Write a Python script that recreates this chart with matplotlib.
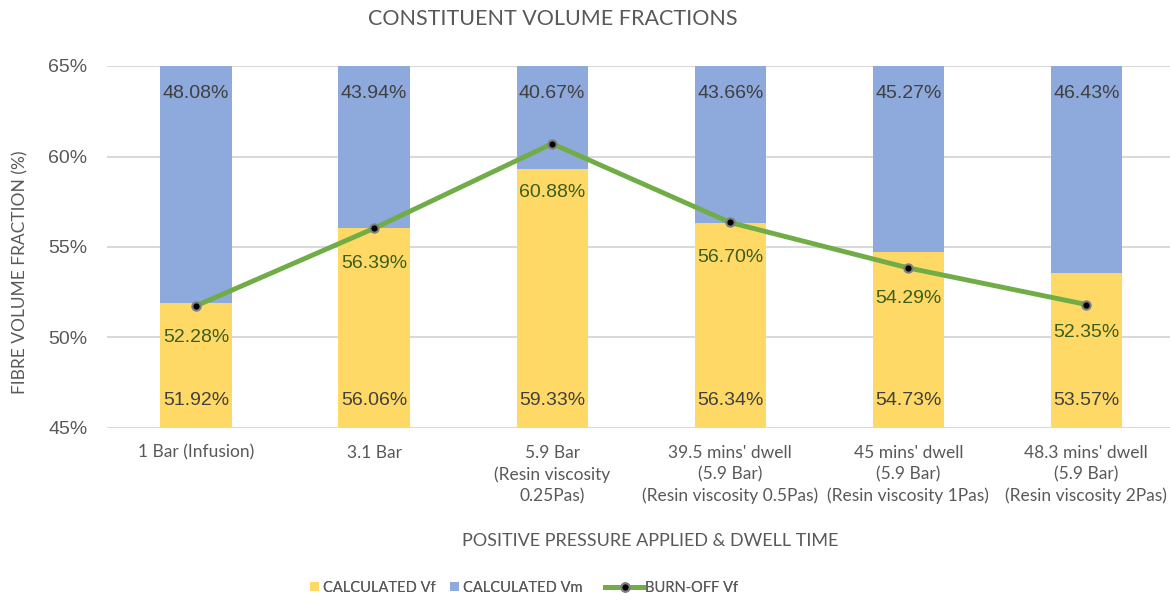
import numpy as np
import matplotlib
matplotlib.use('Agg')
import matplotlib.pyplot as plt

categories = ["1 Bar (Infusion)", "3.1 Bar", "5.9 Bar\n(Resin viscosity\n0.25Pas)",
              "39.5 mins' dwell\n(5.9 Bar)\n(Resin viscosity 0.5Pas)",
              "45 mins' dwell\n(5.9 Bar)\n(Resin viscosity 1Pas)",
              "48.3 mins' dwell\n(5.9 Bar)\n(Resin viscosity 2Pas)"]
calc_vf = [51.92, 56.06, 59.33, 56.34, 54.73, 53.57]
calc_vm = [48.08, 43.94, 40.67, 43.66, 45.27, 46.43]
burnoff_vf = [52.28, 56.39, 60.88, 56.70, 54.29, 52.35]

# label offsets (points) below each burn-off marker
burnoff_label_dy = [-23, -25, -35, -25, -22, -20]

YELLOW = '#FFD966'
BLUE = '#8EA9DB'
GREEN = '#70AD47'
GRAY = '#595959'
LABEL_FONT = ['Lato', 'DejaVu Sans']
NUM_FONT = ['Liberation Sans', 'DejaVu Sans']

fig = plt.figure(figsize=(11.7, 6.03), dpi=100)
ax = fig.add_axes([107 / 1170, (603 - 428) / 603, (1170 - 107) / 1170, 362 / 603])

x = np.arange(len(categories))
w = 0.40
b1 = ax.bar(x, calc_vf, w, color=YELLOW, label='CALCULATED Vf', zorder=2)
b2 = ax.bar(x, calc_vm, w, bottom=calc_vf, color=BLUE, label='CALCULATED Vm', zorder=2)

ax.set_ylim(45, 65)
ax.set_xlim(-0.5, 5.47)
ax.set_yticks(np.arange(45, 66, 5))
ax.set_yticklabels([f'{v}%' for v in range(45, 66, 5)], fontsize=14, color=GRAY, family=NUM_FONT)
ax.set_xticks(x)
ax.set_xticklabels(categories, fontsize=12.5, color=GRAY, family=LABEL_FONT, linespacing=1.4)
ax.tick_params(length=0, pad=12)
ax.tick_params(axis='y', pad=14)
ax.yaxis.grid(True, color='#D9D9D9', linewidth=1.5, zorder=0)
ax.set_axisbelow(True)
for s in ax.spines.values():
    s.set_visible(False)

for i in range(len(x)):
    ax.annotate(f'{calc_vf[i]:.2f}%', (x[i], 45), xytext=(0, 20), textcoords='offset points',
                ha='center', va='center', fontsize=14, color='#404040', family=NUM_FONT)
    ax.annotate(f'{calc_vm[i]:.2f}%', (x[i], 65), xytext=(0, -20), textcoords='offset points',
                ha='center', va='center', fontsize=14, color='#404040', family=NUM_FONT)

# burn-off on hidden secondary axis
ax2 = ax.twinx()
ax2.set_ylim(45.8, 65)
ax2.set_axis_off()
line, = ax2.plot(x, burnoff_vf, color=GREEN, linewidth=3.5, marker='o', markersize=6,
                 markerfacecolor='black', markeredgecolor='#7F7F7F', markeredgewidth=1.5,
                 label='BURN-OFF Vf', zorder=3)
for i in range(len(x)):
    ax2.annotate(f'{burnoff_vf[i]:.2f}%', (x[i], burnoff_vf[i]), xytext=(0, burnoff_label_dy[i]),
                 textcoords='offset points', ha='center', va='center', fontsize=14,
                 color='#3B5E1F', family=NUM_FONT)

fig.text(553 / 1170, 1 - 19 / 603, 'CONSTITUENT VOLUME FRACTIONS', ha='center', va='center',
         fontsize=15.5, color=GRAY, family=LABEL_FONT)
fig.text(20 / 1170, (603 - 272) / 603, 'FIBRE VOLUME FRACTION (%)', ha='center', va='center',
         rotation=90, fontsize=12.5, color=GRAY, family=LABEL_FONT)
fig.text(650 / 1170, 1 - 541 / 603, 'POSITIVE PRESSURE APPLIED & DWELL TIME', ha='center',
         va='center', fontsize=13, color=GRAY, family=LABEL_FONT)

leg_prop = {'family': LABEL_FONT, 'size': 10.5}
leg_y = 1 - 588 / 603
for handle, text, left, hl in [(b1, 'CALCULATED Vf', 310, 0.6),
                               (b2, 'CALCULATED Vm', 450, 0.6),
                               (line, 'BURN-OFF Vf', 605, 2.7)]:
    lg = fig.legend([handle], [text], loc='center left', bbox_to_anchor=(left / 1170, leg_y),
                    frameon=False, prop=leg_prop, labelcolor=GRAY, handlelength=hl,
                    handleheight=0.6, handletextpad=0.3 if hl < 1 else 0.05, borderaxespad=0,
                    borderpad=0)
    fig.add_artist(lg)

fig.savefig('out.png', dpi=100)
